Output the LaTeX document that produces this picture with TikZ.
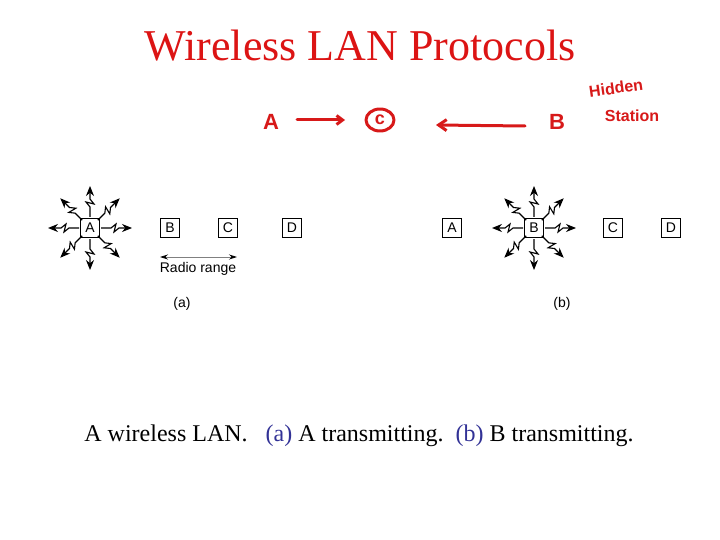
\documentclass[tikz,border=0pt]{standalone}
\usepackage{fontspec}
\setmainfont{Liberation Serif}
\newfontfamily\helv{Liberation Sans}
\usetikzlibrary{arrows.meta}
\definecolor{titlered}{RGB}{220,20,20}
\definecolor{inkred}{RGB}{215,25,25}
\definecolor{capblue}{RGB}{50,50,150}
\tikzset{
  stn/.style={draw=black, line width=0.7pt, minimum size=19pt, inner sep=0pt, font=\helv\fontsize{14}{14}\selectfont},
  boltline/.style={line width=1.1pt, -{Stealth[length=10pt,width=8pt]}},
  ink/.style={draw=inkred, line width=3pt, line cap=round, line join=round},
  inktext/.style={text=inkred, font=\helv\bfseries\fontsize{22}{22}\selectfont},
  small/.style={font=\helv\fontsize{14}{14}\selectfont},
  bolt/.pic={\draw[boltline] (11,0) -- (21,0) -- (26,-4) -- (24,4) -- (29,0) -- (42,0);}
}
\begin{document}
\begin{tikzpicture}[x=1pt,y=-1pt]
\useasboundingbox (0,0) rectangle (720,540);
% title
\node[text=titlered, font=\fontsize{44}{44}\selectfont] (title) at (360,46) {Wireless LAN Protocols};
% handwritten annotation
\node[inktext] (hA) at (271,122) {A};
\node[inktext, font=\helv\bfseries\fontsize{18}{18}\selectfont] (hC) at (380,120) {c};
\draw[ink] (hC) circle [x radius=14pt, y radius=11pt];
\coordinate (hA1) at (297,120);
\coordinate (hA2) at (345,120);
\draw[ink, -{Straight Barb[length=6pt,width=9pt]}] (hA1) -- (hA2);
\node[inktext] (hB) at (557,122) {B};
\coordinate (hB1) at (525,126);
\coordinate (hB2) at (436,125);
\draw[ink, -{Straight Barb[length=8pt,width=11pt]}] (hB1) -- (hB2);
\node[inktext, font=\helv\bfseries\fontsize{16}{16}\selectfont, rotate=8] (hid) at (616,88) {Hidden};
\node[inktext, font=\helv\bfseries\fontsize{16}{16}\selectfont] (sta) at (632,116) {Station};
% (a)
\node[stn, line width=1.2pt] (aA) at (90,228) {A};
\node[stn] (aB) at (170,228) {B};
\node[stn] (aC) at (228,228) {C};
\node[stn] (aD) at (292,228) {D};
\foreach \ang in {0,45,...,315} \pic[rotate=\ang] at (aA) {bolt};
\coordinate (rl) at (160,257);
\coordinate (rr) at (237,257);
\draw[gray, line width=0.8pt, {Stealth[length=8pt,width=5pt,black]}-{Stealth[length=8pt,width=5pt,black]}] (rl) -- (rr);
\node[small] (rr-lab) at (198,269) {Radio range};
\node[small] (la) at (182,304) {(a)};
% (b)
\node[stn] (bA) at (452,228) {A};
\node[stn, line width=1.2pt] (bB) at (534,228) {B};
\node[stn] (bC) at (613,228) {C};
\node[stn] (bD) at (671,228) {D};
\foreach \ang in {0,45,...,315} \pic[rotate=\ang] at (bB) {bolt};
\node[small] (lb) at (562,304) {(b)};
% caption
\node[font=\fontsize{24}{24}\selectfont, anchor=base] (cap) at (359,441) {A wireless LAN.\ \ \ {\color{capblue}(a)} A transmitting.\ \ {\color{capblue}(b)} B transmitting.};
\end{tikzpicture}
\end{document}
